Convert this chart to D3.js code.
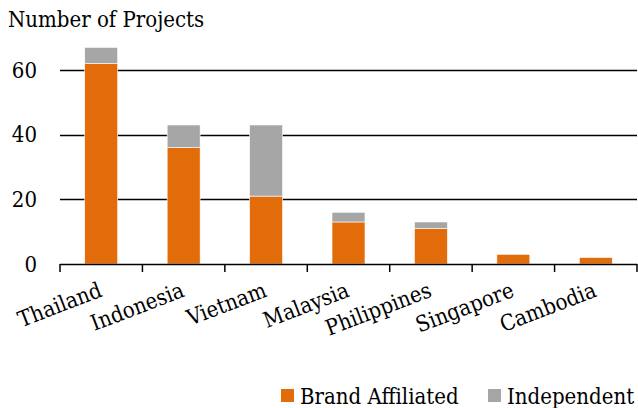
<!DOCTYPE html>
<html>
<head>
<meta charset="utf-8">
<script src="https://cdn.jsdelivr.net/npm/d3@7"></script>
<style>
  body { margin: 0; background: #fff; }
  text { font-family: "DejaVu Serif Condensed", "DejaVu Serif", serif; fill: #000; }
</style>
</head>
<body>
<svg id="chart"></svg>
<script>
// chart data
var countries = ["Thailand", "Indonesia", "Vietnam", "Malaysia", "Philippines", "Singapore", "Cambodia"];
var brandAffiliated = [62, 36, 21, 13, 11, 3, 2];
var independent = [5, 7, 22, 3, 2, 0, 0];
var seriesNames = ["Brand Affiliated", "Independent"];
var seriesColors = ["#e36c0a", "#a6a6a6"];
var yTicks = [0, 20, 40, 60];

var width = 638, height = 408;
var margin = { left: 60, right: 1, top: 38, bottom: 144 };
var fontSize = "22px";

var svg = d3.select("#chart").attr("width", width).attr("height", height);

// stack the two series
var rows = countries.map(function (c, i) {
  return { country: c, "Brand Affiliated": brandAffiliated[i], "Independent": independent[i] };
});
var stacked = d3.stack().keys(seriesNames)(rows);

var x = d3.scaleBand()
  .domain(countries)
  .range([margin.left, width - margin.right])
  .paddingInner(0.6)
  .paddingOuter(0.3);

var y = d3.scaleLinear()
  .domain([0, 70])
  .range([height - margin.bottom, height - margin.bottom - 70 * 3.233]);

// gridlines
svg.append("g")
  .selectAll("line")
  .data(yTicks.filter(function (d) { return d > 0; }))
  .enter()
  .append("line")
  .attr("x1", margin.left)
  .attr("x2", width - margin.right)
  .attr("y1", function (d) { return Math.round(y(d)) + 0.5; })
  .attr("y2", function (d) { return Math.round(y(d)) + 0.5; })
  .style("stroke", "#000")
  .style("stroke-width", 1.5);

// y tick labels
svg.append("g")
  .selectAll("text")
  .data(yTicks)
  .enter()
  .append("text")
  .attr("x", 37)
  .attr("y", function (d) { return y(d); })
  .attr("dy", "0.35em")
  .attr("text-anchor", "end")
  .style("font-size", fontSize)
  .text(function (d) { return d; });

// bars
svg.append("g")
  .selectAll("g")
  .data(stacked)
  .enter()
  .append("g")
  .style("fill", function (d, i) { return seriesColors[i]; })
  .selectAll("rect")
  .data(function (d) { return d; })
  .enter()
  .append("rect")
  .attr("x", function (d) { return x(d.data.country); })
  .attr("width", x.bandwidth())
  .attr("y", function (d) { return y(d[1]); })
  .attr("height", function (d) { return y(d[0]) - y(d[1]); })
  .style("stroke", "#fff")
  .style("stroke-width", 0.6);

// x axis with category ticks at band edges
var x0 = y(0);
var axis = svg.append("g");
axis.append("line")
  .attr("x1", margin.left)
  .attr("x2", width - margin.right)
  .attr("y1", x0 + 0.5)
  .attr("y2", x0 + 0.5)
  .style("stroke", "#000")
  .style("stroke-width", 1.5);
var edges = d3.range(countries.length + 1).map(function (i) { return margin.left + i * (width - margin.left - margin.right) / countries.length; });
axis.selectAll("line.tick")
  .data(edges)
  .enter()
  .append("line")
  .attr("class", "tick")
  .attr("x1", function (d) { return d; })
  .attr("x2", function (d) { return d; })
  .attr("y1", x0)
  .attr("y2", x0 + 8)
  .style("stroke", "#000")
  .style("stroke-width", 1.5);

axis.selectAll("text")
  .data(countries)
  .enter()
  .append("text")
  .attr("transform", function (d) {
    return "translate(" + (x(d) + x.bandwidth() / 2 + 2) + "," + (x0 + 32) + ") rotate(-21)";
  })
  .attr("text-anchor", "end")
  .style("font-size", fontSize)
  .text(function (d) { return d; });

// axis title
svg.append("text")
  .attr("x", 8)
  .attr("y", 27)
  .style("font-size", fontSize)
  .text("Number of Projects");

// legend
var legendX = [281, 488];
var legend = svg.append("g")
  .selectAll("g")
  .data(seriesNames)
  .enter()
  .append("g")
  .attr("transform", function (d, i) { return "translate(" + legendX[i] + ",389)"; });
legend.append("rect")
  .attr("width", 13)
  .attr("height", 13)
  .style("fill", function (d, i) { return seriesColors[i]; });
legend.append("text")
  .attr("x", 19)
  .attr("y", 15)
  .style("font-size", fontSize)
  .text(function (d) { return d; });
</script>
</body>
</html>
